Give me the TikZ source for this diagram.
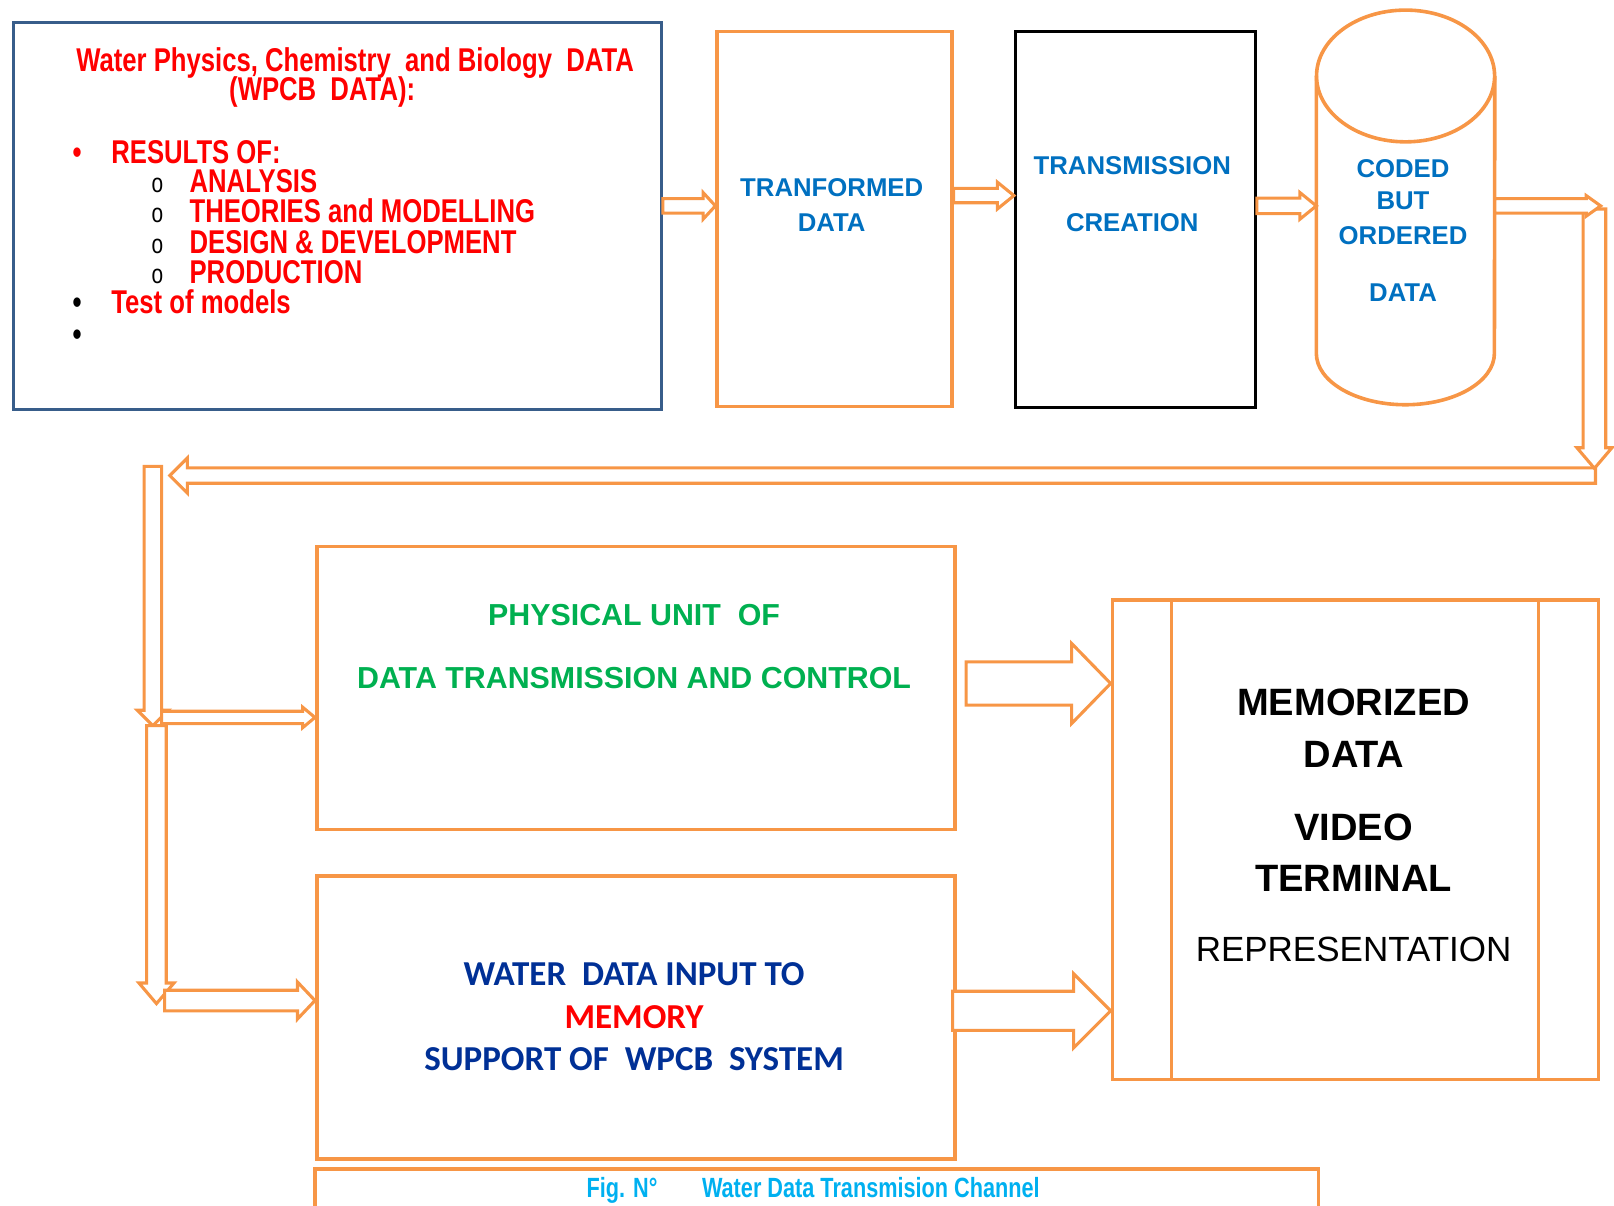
\documentclass[tikz,border=0pt]{standalone}
\usepackage{fontspec}
\setmainfont{Liberation Sans}
\newfontfamily\narrowfont[FakeStretch=0.78]{Liberation Sans}
\newfontfamily\calfont{Carlito}
\usetikzlibrary{calc}

\definecolor{boxorange}{RGB}{247,150,70}
\definecolor{boxblue}{RGB}{56,93,138}
\definecolor{txtblue}{RGB}{0,112,192}
\definecolor{txtgreen}{RGB}{0,176,80}
\definecolor{txtnavy}{RGB}{0,48,150}
\definecolor{txtcyan}{RGB}{0,176,240}

% hollow block arrows: from, to, shaft half, head half, head length
\newcommand{\blockright}[5]{%
  \draw[blockarrow] let \p1=(#1), \p2=(#2) in
    (\x1,\y2+#3pt) -- (\x2-#5pt,\y2+#3pt) -- (\x2-#5pt,\y2+#4pt) -- (\x2,\y2)
    -- (\x2-#5pt,\y2-#4pt) -- (\x2-#5pt,\y2-#3pt) -- (\x1,\y2-#3pt) -- cycle;}
\newcommand{\blockleft}[5]{%
  \draw[blockarrow] let \p1=(#1), \p2=(#2) in
    (\x1,\y2+#3pt) -- (\x2+#5pt,\y2+#3pt) -- (\x2+#5pt,\y2+#4pt) -- (\x2,\y2)
    -- (\x2+#5pt,\y2-#4pt) -- (\x2+#5pt,\y2-#3pt) -- (\x1,\y2-#3pt) -- cycle;}
\newcommand{\blockdown}[5]{%
  \draw[blockarrow] let \p1=(#1), \p2=(#2) in
    (\x2-#3pt,\y1) -- (\x2-#3pt,\y2+#5pt) -- (\x2-#4pt,\y2+#5pt) -- (\x2,\y2)
    -- (\x2+#4pt,\y2+#5pt) -- (\x2+#3pt,\y2+#5pt) -- (\x2+#3pt,\y1) -- cycle;}

\begin{document}
\begin{tikzpicture}[x=1pt, y=-1pt,
    box/.style={draw=boxorange, line width=3.5pt, anchor=north west, inner sep=0pt},
    outline/.style={draw=boxorange, line width=3.5pt},
    blockarrow/.style={draw=boxorange, fill=white, line width=3pt, line join=miter},
    lbl/.style={anchor=base, inner sep=0pt},
    redtxt/.style={lbl, text=red, font=\narrowfont\bfseries\fontsize{32}{38}\selectfont},
    bluetxt/.style={lbl, text=txtblue, font=\bfseries\fontsize{25}{30}\selectfont},
    greentxt/.style={lbl, text=txtgreen, font=\bfseries\fontsize{29.5}{35}\selectfont},
    navytxt/.style={lbl, text=txtnavy, font=\calfont\bfseries\fontsize{34}{40}\selectfont},
    memotxt/.style={lbl, font=\bfseries\fontsize{37}{44}\selectfont}]
  \useasboundingbox (0,0) rectangle (1568,1171);
  \clip (0,0) rectangle (1568,1171);

  % boxes
  \node[box, draw=boxblue, line width=3pt, minimum width=629, minimum height=376] (wpcb) at (12,20) {};
  \node[box, minimum width=228, minimum height=364] (tranf) at (695,29) {};
  \node[box, draw=black, line width=3pt, minimum width=233, minimum height=365] (transm) at (985,29) {};
  \node[inner sep=0pt, minimum width=173, minimum height=383] (coded) at (1365.5,201.5) {};
  \node[box, minimum width=620, minimum height=275] (phys) at (306,529) {};
  \node[box, minimum width=620, minimum height=275] (water) at (306,849) {};
  \node[box, minimum width=472, minimum height=466] (memo) at (1079,581) {};
  \node[box, minimum width=975, minimum height=120] (caption) at (304,1134) {};

  % cylinder
  \draw[outline] ([yshift=-64pt]coded.north west) -- ([yshift=50pt]coded.south west)
    arc[start angle=180, end angle=360, x radius=86.5pt, y radius=50pt]
    -- ([yshift=-64pt]coded.north east);
  \draw[outline] ([yshift=-64pt]coded.north) ellipse[x radius=86.5pt, y radius=64pt];

  % side bars of the memory box
  \draw[outline] ([xshift=59pt]memo.north west) -- ([xshift=59pt]memo.south west);
  \draw[outline] ([xshift=-60pt]memo.north east) -- ([xshift=-60pt]memo.south east);

  % free ends of the return path
  \coordinate (bend) at (1555,200);
  \coordinate (bendtop) at (1549,203);
  \coordinate (turn) at (1549,455);
  \coordinate (backstart) at (1550,462);
  \coordinate (backend) at (165,462);
  \coordinate (droptop) at (148.5,453);
  \coordinate (split) at (148.5,705);
  \coordinate (dropend) at (152,975);
  \coordinate (tophys) at (157,697);
  \coordinate (towater) at (160,972);

  % arrows
  \blockright{wpcb.east}{tranf.west |- 0,200}{7}{13}{12}
  \blockright{tranf.east}{transm.west |- 0,190}{7}{13}{16}
  \blockright{transm.east}{coded.west |- 0,200}{7.5}{13}{16}
  \blockleft{backstart}{backend}{7.5}{17}{17}
  \blockdown{bendtop}{turn}{11}{17}{20}
  \blockright{coded.east}{bend}{7}{10}{14}
  \blockdown{droptop}{split}{8.5}{15}{15}
  \blockdown{split}{dropend}{9.5}{17}{20}
  \blockright{tophys}{phys.west |- 0,697}{6}{10}{12}
  \blockright{towater}{water.west |- 0,972}{10}{18}{17}
  \blockright{[xshift=9pt]phys.east}{memo.west |- 0,664}{21}{39}{38}
  \blockright{[xshift=-4pt]water.east}{memo.west |- 0,982}{19}{36}{36}

  % WPCB data text
  \node[redtxt] (wpcb1) at (345,69) {Water Physics, Chemistry\ \ and Biology\ \ DATA};
  \node[redtxt] (wpcb2) at (313,98) {(WPCB\ \ DATA):};
  \node[redtxt] (dot1) at (75,159) {•};
  \node[redtxt, anchor=base west] (res) at (108,159) {RESULTS OF:};
  \foreach \entry [count=\i from 0] in {ANALYSIS, THEORIES and MODELLING, DESIGN \& DEVELOPMENT, PRODUCTION} {
    \node[redtxt, text=black, font=\narrowfont\fontsize{26}{30}\selectfont] (sub\i) at (153,{187+29.5*\i}) {o};
    \node[redtxt, anchor=base west] (item\i) at (184,{187+29.5*\i}) {\entry};
  }
  \node[redtxt, text=black] (dot2) at (75,305) {•};
  \node[redtxt, anchor=base west] (test) at (108,305) {Test of models};
  \node[redtxt, text=black] (dot3) at (75,336) {•};

  % top row labels
  \node[bluetxt] (tranf1) at (808,191) {TRANFORMED};
  \node[bluetxt] (tranf2) at (808,225) {DATA};
  \node[bluetxt] (transm1) at (1100,170) {TRANSMISSION};
  \node[bluetxt] (transm2) at (1100,225) {CREATION};
  \node[bluetxt] (coded1) at (1363,172) {CODED};
  \node[bluetxt] (coded2) at (1363,204) {BUT};
  \node[bluetxt] (coded3) at (1363,238) {ORDERED};
  \node[bluetxt] (coded4) at (1363,293) {DATA};

  % lower labels
  \node[greentxt] (phys1) at (616,607.5) {PHYSICAL UNIT\ \ OF};
  \node[greentxt] (phys2) at (616,668.5) {DATA TRANSMISSION AND CONTROL};
  \node[navytxt] (water1) at (616,957) {WATER\ \ DATA INPUT TO};
  \node[navytxt, text=red] (water2) at (616,999) {MEMORY};
  \node[navytxt] (water3) at (616,1040) {SUPPORT OF\ \ WPCB\ \ SYSTEM};
  \node[memotxt] (memo1) at (1315,695) {MEMORIZED};
  \node[memotxt] (memo2) at (1315,746) {DATA};
  \node[memotxt] (memo3) at (1315,817) {VIDEO};
  \node[memotxt] (memo4) at (1315,866) {TERMINAL};
  \node[lbl, font=\fontsize{34}{40}\selectfont] (memo5) at (1315,934) {REPRESENTATION};
  \node[lbl, text=txtcyan, font=\narrowfont\bfseries\fontsize{27}{32}\selectfont] (captxt) at (790,1163) {Fig. N°\hspace{1.6em}Water Data Transmision Channel};
\end{tikzpicture}
\end{document}
